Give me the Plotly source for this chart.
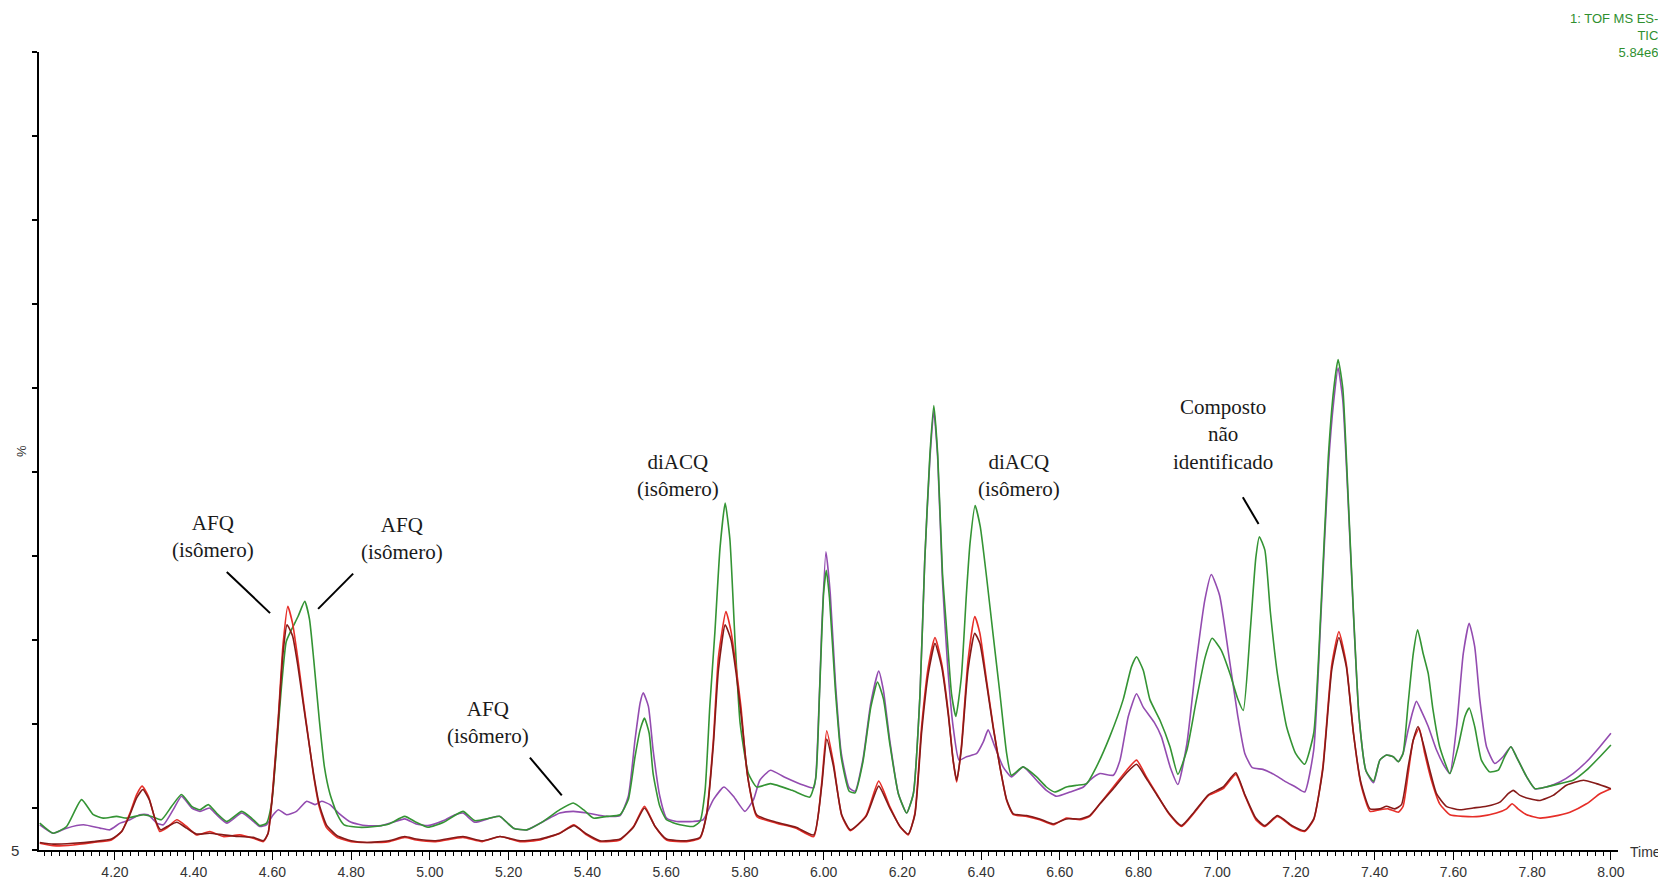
import plotly.graph_objects as go

# ---------------- data (time in min, relative intensity in %) ----------------
green_t = [4.009, 4.043, 4.077, 4.115, 4.145, 4.17, 4.204, 4.23, 4.272, 4.293, 4.318, 4.344, 4.369, 4.395,
           4.416, 4.437, 4.458, 4.484, 4.522, 4.547, 4.568, 4.585, 4.598, 4.61, 4.623, 4.635, 4.648, 4.665,
           4.682, 4.694, 4.705, 4.719, 4.732, 4.746, 4.764, 4.782, 4.82, 4.86, 4.896, 4.936, 4.965, 4.995,
           5.035, 5.084, 5.114, 5.153, 5.178, 5.212, 5.246, 5.288, 5.33, 5.364, 5.39, 5.415, 5.449, 5.483,
           5.504, 5.521, 5.534, 5.545, 5.557, 5.567, 5.584, 5.601, 5.635, 5.669, 5.686, 5.699, 5.711, 5.724,
           5.737, 5.75, 5.762, 5.775, 5.788, 5.809, 5.83, 5.865, 5.92, 5.965, 5.98, 5.99, 6.0, 6.007, 6.015,
           6.03, 6.045, 6.065, 6.08, 6.1, 6.12, 6.137, 6.152, 6.168, 6.19, 6.211, 6.228, 6.245, 6.257, 6.27,
           6.28, 6.29, 6.302, 6.312, 6.325, 6.336, 6.35, 6.363, 6.372, 6.385, 6.398, 6.414, 6.431, 6.448,
           6.465, 6.477, 6.507, 6.541, 6.566, 6.587, 6.617, 6.643, 6.668, 6.693, 6.727, 6.761, 6.782, 6.795,
           6.812, 6.829, 6.854, 6.88, 6.9, 6.923, 6.946, 6.969, 6.987, 7.01, 7.033, 7.052, 7.066, 7.084,
           7.098, 7.107, 7.121, 7.135, 7.153, 7.176, 7.199, 7.222, 7.245, 7.263, 7.282, 7.296, 7.307, 7.319,
           7.332, 7.346, 7.36, 7.378, 7.397, 7.413, 7.43, 7.447, 7.46, 7.472, 7.485, 7.498, 7.509, 7.523,
           7.536, 7.548, 7.565, 7.591, 7.612, 7.629, 7.64, 7.654, 7.671, 7.692, 7.714, 7.73, 7.746, 7.76,
           7.786, 7.807, 7.836, 7.87, 7.904, 7.938, 7.972, 8.0]
green_v = [8.2, 7.0, 7.8, 11.0, 9.2, 8.8, 9.0, 8.8, 9.2, 9.0, 8.6, 10.2, 11.6, 10.2,
           9.8, 10.4, 9.4, 8.4, 9.6, 8.8, 7.9, 8.2, 10.6, 16.9, 24.5, 29.8, 31.2, 32.8,
           34.6, 32.5, 27.6, 20.5, 14.9, 11.7, 9.3, 8.0, 7.7, 7.8, 8.1, 9.0, 8.3, 7.7,
           8.3, 9.6, 8.5, 8.8, 9.0, 7.6, 7.4, 8.4, 9.8, 10.6, 9.8, 8.8, 9.0, 9.2,
           11.0, 16.1, 19.3, 20.7, 18.9, 14.1, 10.2, 8.6, 8.0, 7.8, 8.4, 12.1, 22.1, 31.0,
           41.0, 46.3, 42.0, 30.0, 20.1, 14.1, 12.5, 12.9, 12.1, 11.3, 13.5, 24.0, 35.5, 38.3, 35.0,
           24.0, 16.0, 12.0, 11.8, 15.5, 22.0, 25.0, 23.0, 17.7, 11.7, 9.4, 11.7, 23.6, 39.5, 52.0,
           57.9, 52.0, 38.0, 31.6, 23.6, 20.9, 25.6, 35.6, 41.5, 46.0, 43.5, 37.5, 30.5, 23.6,
           16.5, 13.9, 14.9, 13.7, 12.5, 11.9, 12.5, 12.7, 12.9, 14.9, 18.5, 22.9, 26.8, 28.0,
           26.4, 22.9, 20.5, 17.3, 14.0, 16.9, 22.6, 27.9, 30.2, 28.8, 25.9, 23.0, 21.6, 31.2,
           39.8, 42.3, 40.7, 33.3, 25.9, 19.7, 16.5, 15.2, 18.9, 33.3, 51.7, 59.9, 63.4, 59.9,
           47.6, 33.3, 21.0, 14.4, 13.2, 15.7, 16.3, 16.1, 15.5, 16.5, 22.5, 28.4, 31.2, 28.4,
           26.0, 21.7, 17.3, 14.1, 17.3, 20.9, 21.9, 19.7, 15.7, 14.3, 14.5, 16.1, 17.3, 16.1,
           13.7, 12.3, 12.5, 12.9, 13.3, 14.5, 16.1, 17.5]

purple_t = [4.009, 4.043, 4.077, 4.12, 4.162, 4.187, 4.213, 4.238, 4.263, 4.284, 4.306, 4.323, 4.348, 4.369,
            4.395, 4.416, 4.44, 4.458, 4.484, 4.522, 4.547, 4.568, 4.585, 4.602, 4.615, 4.636, 4.661, 4.687,
            4.708, 4.725, 4.746, 4.768, 4.8, 4.837, 4.877, 4.906, 4.936, 4.965, 4.995, 5.035, 5.064, 5.084,
            5.114, 5.153, 5.178, 5.212, 5.246, 5.288, 5.33, 5.364, 5.4, 5.449, 5.483, 5.504, 5.521, 5.534,
            5.542, 5.555, 5.567, 5.584, 5.601, 5.627, 5.669, 5.694, 5.72, 5.747, 5.771, 5.8, 5.822, 5.838,
            5.865, 5.9, 5.95, 5.975, 5.985, 5.995, 6.006, 6.017, 6.03, 6.045, 6.065, 6.08, 6.1, 6.12, 6.14,
            6.152, 6.168, 6.19, 6.211, 6.228, 6.245, 6.257, 6.27, 6.28, 6.29, 6.302, 6.315, 6.329, 6.344,
            6.363, 6.389, 6.406, 6.418, 6.435, 6.456, 6.477, 6.507, 6.541, 6.566, 6.592, 6.626, 6.66, 6.676,
            6.702, 6.736, 6.753, 6.774, 6.795, 6.812, 6.84, 6.858, 6.881, 6.9, 6.923, 6.946, 6.969, 6.985,
            7.006, 7.029, 7.052, 7.07, 7.089, 7.116, 7.144, 7.171, 7.199, 7.222, 7.245, 7.263, 7.282, 7.296,
            7.307, 7.319, 7.332, 7.346, 7.36, 7.378, 7.397, 7.413, 7.43, 7.447, 7.46, 7.472, 7.485, 7.498,
            7.506, 7.519, 7.536, 7.557, 7.578, 7.591, 7.608, 7.625, 7.64, 7.654, 7.667, 7.684, 7.705, 7.726,
            7.746, 7.76, 7.786, 7.807, 7.836, 7.87, 7.904, 7.938, 7.972, 8.0]
purple_v = [8.0, 7.0, 7.6, 8.0, 7.6, 7.4, 8.2, 8.6, 9.2, 9.2, 8.2, 8.0, 9.8, 11.4,
            10.0, 9.6, 10.0, 9.2, 8.2, 9.4, 8.6, 7.8, 8.0, 9.2, 9.8, 9.2, 9.6, 10.8,
            10.4, 10.8, 10.4, 9.4, 8.3, 7.9, 7.9, 8.3, 8.7, 8.1, 7.9, 8.5, 9.2, 9.4,
            8.3, 8.8, 9.0, 7.6, 7.4, 8.4, 9.4, 9.6, 9.4, 9.0, 9.1, 11.4, 18.1, 22.5,
            23.7, 22.1, 16.9, 11.4, 8.8, 8.4, 8.4, 8.6, 11.0, 12.5, 11.4, 9.6, 11.0, 13.3,
            14.5, 13.7, 12.7, 12.4, 18.0, 31.0, 40.5, 35.5, 25.0, 16.5, 12.4, 12.0, 15.8, 22.5, 26.3,
            24.0, 18.1, 11.7, 9.4, 11.7, 23.6, 39.5, 51.5, 57.3, 51.5, 37.0, 27.0, 19.7, 15.7,
            16.1, 16.5, 17.9, 19.3, 17.3, 14.9, 13.7, 14.9, 13.3, 12.1, 11.4, 11.9, 12.5, 13.3,
            14.1, 13.9, 15.7, 20.9, 23.6, 22.0, 20.2, 18.5, 14.8, 12.8, 17.7, 27.1, 34.9, 37.8,
            35.3, 28.3, 21.0, 16.5, 14.8, 14.6, 14.0, 13.2, 12.5, 11.9, 16.9, 32.5, 50.5, 58.5,
            62.4, 58.5, 47.0, 33.0, 21.0, 14.4, 13.0, 15.7, 16.3, 16.1, 15.5, 16.5, 19.3, 21.7,
            22.7, 21.5, 19.7, 16.9, 14.9, 14.1, 19.7, 28.4, 32.0, 29.2, 22.9, 17.3, 15.3, 16.1,
            17.3, 16.1, 13.7, 12.3, 12.5, 13.1, 14.1, 15.5, 17.3, 18.9]

red_t = [4.009, 4.043, 4.094, 4.145, 4.191, 4.217, 4.238, 4.255, 4.269, 4.285, 4.302, 4.314, 4.331, 4.357,
         4.382, 4.407, 4.441, 4.475, 4.517, 4.551, 4.577, 4.589, 4.602, 4.615, 4.627, 4.639, 4.651, 4.665,
         4.678, 4.692, 4.705, 4.719, 4.737, 4.764, 4.8, 4.84, 4.896, 4.936, 4.965, 5.015, 5.084, 5.133,
         5.178, 5.229, 5.28, 5.33, 5.366, 5.398, 5.432, 5.483, 5.517, 5.545, 5.572, 5.601, 5.652, 5.686,
         5.703, 5.72, 5.733, 5.752, 5.765, 5.777, 5.79, 5.806, 5.83, 5.88, 5.93, 5.975, 5.995, 6.008,
         6.025, 6.046, 6.068, 6.108, 6.14, 6.168, 6.194, 6.215, 6.232, 6.249, 6.266, 6.283, 6.3, 6.317,
         6.329, 6.338, 6.35, 6.367, 6.384, 6.397, 6.414, 6.431, 6.448, 6.465, 6.482, 6.516, 6.549, 6.583,
         6.617, 6.651, 6.676, 6.702, 6.736, 6.77, 6.795, 6.82, 6.846, 6.877, 6.909, 6.941, 6.978, 7.015,
         7.047, 7.07, 7.098, 7.121, 7.153, 7.19, 7.222, 7.245, 7.268, 7.291, 7.309, 7.328, 7.346, 7.365,
         7.388, 7.413, 7.434, 7.46, 7.472, 7.485, 7.498, 7.513, 7.527, 7.544, 7.565, 7.591, 7.625, 7.667,
         7.709, 7.735, 7.749, 7.764, 7.786, 7.82, 7.853, 7.896, 7.938, 7.972, 8.0]
red_v = [5.8, 5.5, 5.6, 5.9, 6.2, 7.2, 9.4, 11.6, 12.6, 11.4, 8.6, 7.2, 7.6, 8.6,
         7.8, 6.8, 7.2, 6.6, 6.8, 6.4, 6.0, 7.0, 12.9, 20.9, 29.5, 34.0, 32.0, 27.6,
         22.9, 18.1, 13.7, 10.1, 7.7, 6.5, 6.0, 5.9, 6.0, 6.5, 6.2, 6.0, 6.5, 6.0,
         6.6, 6.0, 6.2, 7.0, 8.0, 6.8, 6.0, 6.2, 7.8, 10.2, 7.8, 6.2, 6.0, 6.4,
         9.4, 18.1, 28.0, 33.4, 31.0, 27.0, 22.1, 14.1, 9.0, 8.2, 7.6, 6.6, 12.9, 19.2,
         15.4, 9.1, 7.3, 9.1, 13.2, 10.2, 7.8, 6.8, 9.4, 19.7, 26.8, 30.3, 27.2, 21.3,
         15.7, 13.1, 17.3, 27.6, 32.8, 30.8, 25.2, 19.7, 14.9, 10.9, 9.2, 9.0, 8.6, 8.0,
         8.8, 8.6, 9.0, 10.5, 12.5, 14.5, 15.7, 13.7, 11.7, 9.3, 7.8, 9.4, 11.5, 12.3,
         14.0, 11.5, 8.6, 7.8, 9.0, 7.8, 7.2, 8.6, 14.8, 27.1, 31.0, 27.1, 18.9, 12.8,
         9.6, 9.8, 9.9, 9.5, 10.2, 14.1, 18.1, 19.5, 16.5, 13.3, 10.5, 9.2, 9.0, 9.0,
         9.4, 9.9, 10.5, 9.9, 9.2, 8.8, 9.0, 9.5, 10.5, 11.7, 12.3]

darkred_t = [4.009, 4.043, 4.094, 4.145, 4.191, 4.217, 4.238, 4.255, 4.271, 4.287, 4.304, 4.316, 4.333, 4.357,
             4.382, 4.407, 4.441, 4.475, 4.517, 4.551, 4.577, 4.589, 4.602, 4.615, 4.627, 4.637, 4.651, 4.665,
             4.678, 4.692, 4.705, 4.719, 4.737, 4.764, 4.8, 4.84, 4.896, 4.936, 4.965, 5.015, 5.084, 5.133,
             5.178, 5.229, 5.28, 5.33, 5.366, 5.398, 5.432, 5.483, 5.517, 5.545, 5.572, 5.601, 5.652, 5.686,
             5.703, 5.72, 5.733, 5.75, 5.765, 5.778, 5.792, 5.808, 5.83, 5.88, 5.93, 5.975, 5.995, 6.008,
             6.025, 6.046, 6.068, 6.108, 6.14, 6.168, 6.194, 6.215, 6.232, 6.249, 6.266, 6.283, 6.3, 6.317,
             6.329, 6.338, 6.35, 6.367, 6.384, 6.397, 6.414, 6.431, 6.448, 6.465, 6.482, 6.516, 6.549, 6.583,
             6.617, 6.651, 6.676, 6.702, 6.736, 6.77, 6.795, 6.82, 6.846, 6.877, 6.909, 6.941, 6.978, 7.015,
             7.047, 7.07, 7.098, 7.121, 7.153, 7.19, 7.222, 7.245, 7.268, 7.291, 7.309, 7.328, 7.346, 7.365,
             7.388, 7.413, 7.43, 7.451, 7.468, 7.485, 7.498, 7.51, 7.523, 7.54, 7.557, 7.582, 7.616, 7.65,
             7.684, 7.718, 7.739, 7.752, 7.769, 7.794, 7.82, 7.853, 7.887, 7.93, 7.963, 8.0]
darkred_v = [5.9, 5.7, 5.8, 6.0, 6.3, 7.2, 9.2, 11.2, 12.2, 11.0, 8.4, 7.4, 7.8, 8.3,
             7.6, 6.9, 7.0, 6.8, 6.6, 6.5, 6.1, 7.0, 12.5, 20.5, 28.5, 31.8, 30.5, 26.8,
             22.5, 18.0, 13.9, 10.4, 8.0, 6.7, 6.1, 5.9, 6.1, 6.6, 6.3, 6.1, 6.6, 6.1,
             6.6, 6.1, 6.3, 7.0, 7.9, 6.9, 6.1, 6.3, 7.7, 10.0, 7.8, 6.3, 6.1, 6.5,
             9.2, 17.5, 26.5, 31.8, 30.0, 26.0, 20.5, 13.5, 9.2, 8.3, 7.7, 6.8, 12.5, 18.2,
             15.0, 9.2, 7.4, 9.0, 12.6, 10.0, 7.8, 6.9, 9.2, 19.0, 26.0, 29.6, 26.8, 21.0,
             15.7, 13.3, 17.0, 26.5, 30.8, 29.6, 24.8, 19.5, 14.9, 11.0, 9.3, 9.1, 8.7, 8.1,
             8.7, 8.7, 9.1, 10.5, 12.3, 14.2, 15.2, 13.5, 11.6, 9.4, 7.9, 9.5, 11.6, 12.5,
             14.2, 11.6, 8.8, 7.9, 9.1, 7.9, 7.3, 8.7, 14.5, 26.5, 30.3, 26.8, 18.9, 13.0,
             9.9, 9.9, 10.2, 9.9, 10.4, 14.9, 18.1, 19.7, 17.7, 14.5, 11.7, 10.2, 9.8, 10.0,
             10.2, 10.7, 11.7, 12.1, 11.5, 11.1, 10.9, 11.5, 12.7, 13.3, 12.9, 12.3]

# peak labels: text, label centre (time, %), pointer line start/end (time, %)
label_texts = ["AFQ<br>(isômero)", "AFQ<br>(isômero)", "AFQ<br>(isômero)",
               "diACQ<br>(isômero)", "diACQ<br>(isômero)", "Composto<br>não<br>identificado"]
label_t = [4.449, 4.929, 5.148, 5.630, 6.496, 7.015]
label_v = [42.3, 42.1, 20.2, 49.6, 49.6, 54.5]
pointer_t0 = [4.484, 4.805, 5.254, None, None, 7.065]
pointer_v0 = [38.1, 37.9, 16.0, None, None, 47.0]
pointer_t1 = [4.594, 4.716, 5.335, None, None, 7.105]
pointer_v1 = [33.2, 33.7, 11.5, None, None, 43.8]

x_ticks = [4.20, 4.40, 4.60, 4.80, 5.00, 5.20, 5.40, 5.60, 5.80, 6.00,
           6.20, 6.40, 6.60, 6.80, 7.00, 7.20, 7.40, 7.60, 7.80, 8.00]
y_ticks = [5, 10, 20, 30, 40, 50, 60, 70, 80, 90, 100]

# ---------------- figure ----------------
fig = go.Figure()
series = [
    (purple_t, purple_v, "#934cb0"),
    (green_t, green_v, "#349434"),
    (red_t, red_v, "#e62e28"),
    (darkred_t, darkred_v, "#861a18"),
]
for tt, vv, col in series:
    fig.add_trace(go.Scatter(x=tt, y=vv, mode="lines",
                             line=dict(color=col, width=1.6, shape="spline", smoothing=0.5),
                             showlegend=False, hoverinfo="skip"))

serif = "Liberation Serif, Times New Roman, serif"
sans = "Liberation Sans, Arial, sans-serif"

annotations = []
for txt, tx, vy in zip(label_texts, label_t, label_v):
    annotations.append(dict(x=tx, y=vy, xref="x", yref="y", text=txt, showarrow=False,
                            font=dict(family=serif, size=21, color="#1a1a1a"),
                            align="center", xanchor="center", yanchor="middle"))
shapes = []
for a, b, c, d in zip(pointer_t0, pointer_v0, pointer_t1, pointer_v1):
    if a is None:
        continue
    shapes.append(dict(type="line", xref="x", yref="y", x0=a, y0=b, x1=c, y1=d,
                       line=dict(color="black", width=2)))

annotations += [
    dict(xref="paper", yref="paper", x=1.0266, y=1.0545, xanchor="right", yanchor="top",
         text="1: TOF MS ES-<br>TIC<br>5.84e6", showarrow=False, align="right",
         font=dict(family=sans, size=13, color="#2f8f2f")),
    dict(xref="paper", yref="paper", x=1.0063, y=-0.003, xanchor="left", yanchor="middle",
         text="Time", showarrow=False, font=dict(family=sans, size=14, color="#333333")),
    dict(xref="paper", yref="paper", x=-0.0114, y=0.5, xanchor="center", yanchor="middle",
         text="%", textangle=-90, showarrow=False, font=dict(family=sans, size=13, color="#333333")),
    dict(xref="paper", yref="paper", x=-0.0152, y=0.0, xanchor="center", yanchor="middle",
         text="5", showarrow=False, font=dict(family=sans, size=15, color="#333333")),
]

# the page body has an 8px margin: figure pixel (0,0) lands at page (8,8)
fig.update_layout(
    width=1658, height=874,
    margin=dict(l=31, r=48, t=44, b=32, autoexpand=False),
    paper_bgcolor="white", plot_bgcolor="white",
    annotations=annotations, shapes=shapes,
    xaxis=dict(range=[4.007, 8.018], tickvals=x_ticks, ticktext=[f"{v:.2f}" for v in x_ticks],
               automargin=False,
               showline=True, linecolor="black", linewidth=2, mirror=False,
               ticks="outside", ticklen=8, tickwidth=1, tickcolor="black",
               minor=dict(dtick=0.02, tick0=4.0, ticks="outside", ticklen=4, tickcolor="black", tickwidth=1),
               showgrid=False, zeroline=False,
               tickfont=dict(family=sans, size=14, color="#333333")),
    yaxis=dict(range=[5, 100], tickvals=y_ticks, ticktext=[""] * len(y_ticks),
               automargin=False,
               showline=True, linecolor="black", linewidth=2,
               ticks="outside", ticklen=5, tickwidth=2, tickcolor="black",
               showgrid=False, zeroline=False),
)

fig.write_html("out.html")
